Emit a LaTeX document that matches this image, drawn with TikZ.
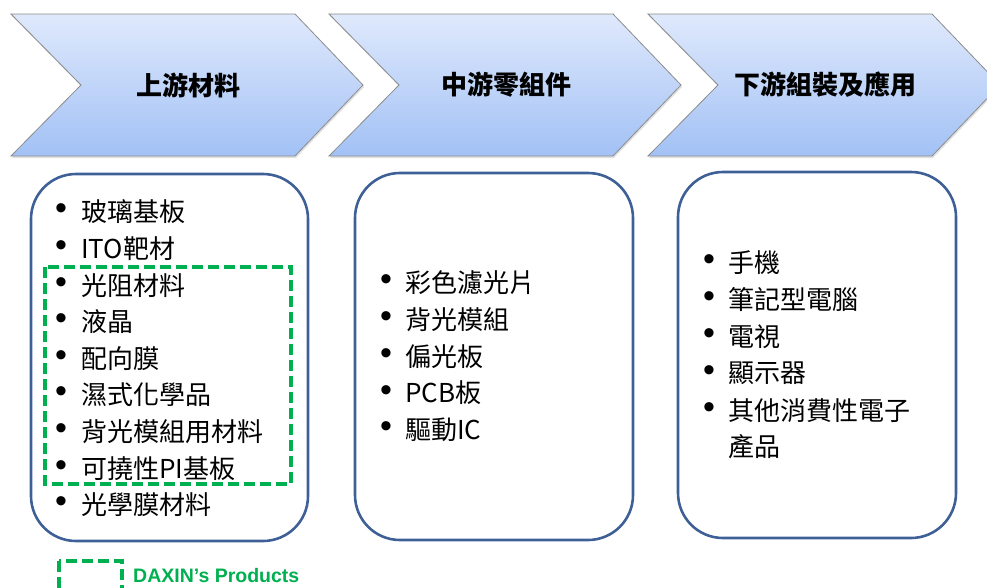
\documentclass[tikz,border=0pt]{standalone}
\usepackage{fontspec}
\setmainfont{Liberation Sans}
\newfontfamily\cjk{Noto Sans CJK TC}
\definecolor{chevtop}{RGB}{223,233,252}
\definecolor{chevbot}{RGB}{162,193,245}
\definecolor{chevline}{RGB}{140,140,140}
\definecolor{boxblue}{RGB}{62,96,150}
\definecolor{dxgreen}{RGB}{0,176,80}
\begin{document}
\begin{tikzpicture}[x=1pt,y=-1pt,
  chev/.style={draw=chevline, line width=0.8pt, top color=chevtop, bottom color=chevbot},
  chevshadow/.style={fill=black, opacity=0.12},
  head/.style={inner sep=0pt, font=\cjk\bfseries\fontsize{26}{26}\selectfont},
  rbox/.style={draw=boxblue, line width=2.6pt, rounded corners=45pt, inner sep=0pt},
  item/.style={anchor=west, inner sep=0pt, font=\cjk\fontsize{26}{26}\selectfont},
  bul/.style={inner sep=0pt, font=\fontsize{34}{34}\selectfont},
  dxbox/.style={draw=dxgreen, line width=3.2pt, dash pattern=on 11pt off 5pt},
  dxtext/.style={anchor=base west, inner sep=0pt, text=dxgreen, font=\bfseries\fontsize{19.5}{19.5}\selectfont}]
\useasboundingbox (0,0) rectangle (987,587);
\clip (0,0) rectangle (987,587);
% chevrons
\foreach \dx in {0,318,637}{
  \fill[chevshadow] (11+\dx+1,14+2) -- (295+\dx+1,14+2) -- (363+\dx+1,85+2) -- (295+\dx+1,156+2) -- (11+\dx+1,156+2) -- (81+\dx+1,85+2) -- cycle;
  \path[chev] (11+\dx,14) -- (295+\dx,14) -- (363+\dx,85) -- (295+\dx,156) -- (11+\dx,156) -- (81+\dx,85) -- cycle;
}
\node[head] (h1) at (188,85) {上游材料};
\node[head] (h2) at (506,85) {中游零組件};
\node[head] (h3) at (825,85) {下游組裝及應用};
% boxes
\node[rbox, minimum width=277pt, minimum height=367pt] (b1) at (169.5,357.5) {};
\node[rbox, minimum width=278pt, minimum height=367pt] (b2) at (494,356.5) {};
\node[rbox, minimum width=278pt, minimum height=366pt] (b3) at (817,355) {};
% box 1 items
\foreach \t [count=\i] in {玻璃基板,ITO靶材,光阻材料,液晶,配向膜,濕式化學品,背光模組用材料,可撓性PI基板,光學膜材料}{
  \node[bul] (p1\i) at (61,{212+36.6*(\i-1)}) {•};
  \node[item] (t1\i) at (81,{212+36.6*(\i-1)}) {\t};
}
% box 2 items
\foreach \t [count=\i] in {彩色濾光片,背光模組,偏光板,PCB板,驅動IC}{
  \node[bul] (p2\i) at (386,{283+36.7*(\i-1)}) {•};
  \node[item] (t2\i) at (405,{283+36.7*(\i-1)}) {\t};
}
% box 3 items
\foreach \t [count=\i] in {手機,筆記型電腦,電視,顯示器,其他消費性電子}{
  \node[bul] (p3\i) at (709,{263+36.8*(\i-1)}) {•};
  \node[item] (t3\i) at (728,{263+36.8*(\i-1)}) {\t};
}
\node[item] (t36) at (728,447) {產品};
% DAXIN products
\draw[dxbox] (45,267) rectangle (291,484);
\draw[dxbox] (59,561) rectangle (122,603);
\node[dxtext] (leg) at (133,582) {DAXIN’s Products};
\end{tikzpicture}
\end{document}
